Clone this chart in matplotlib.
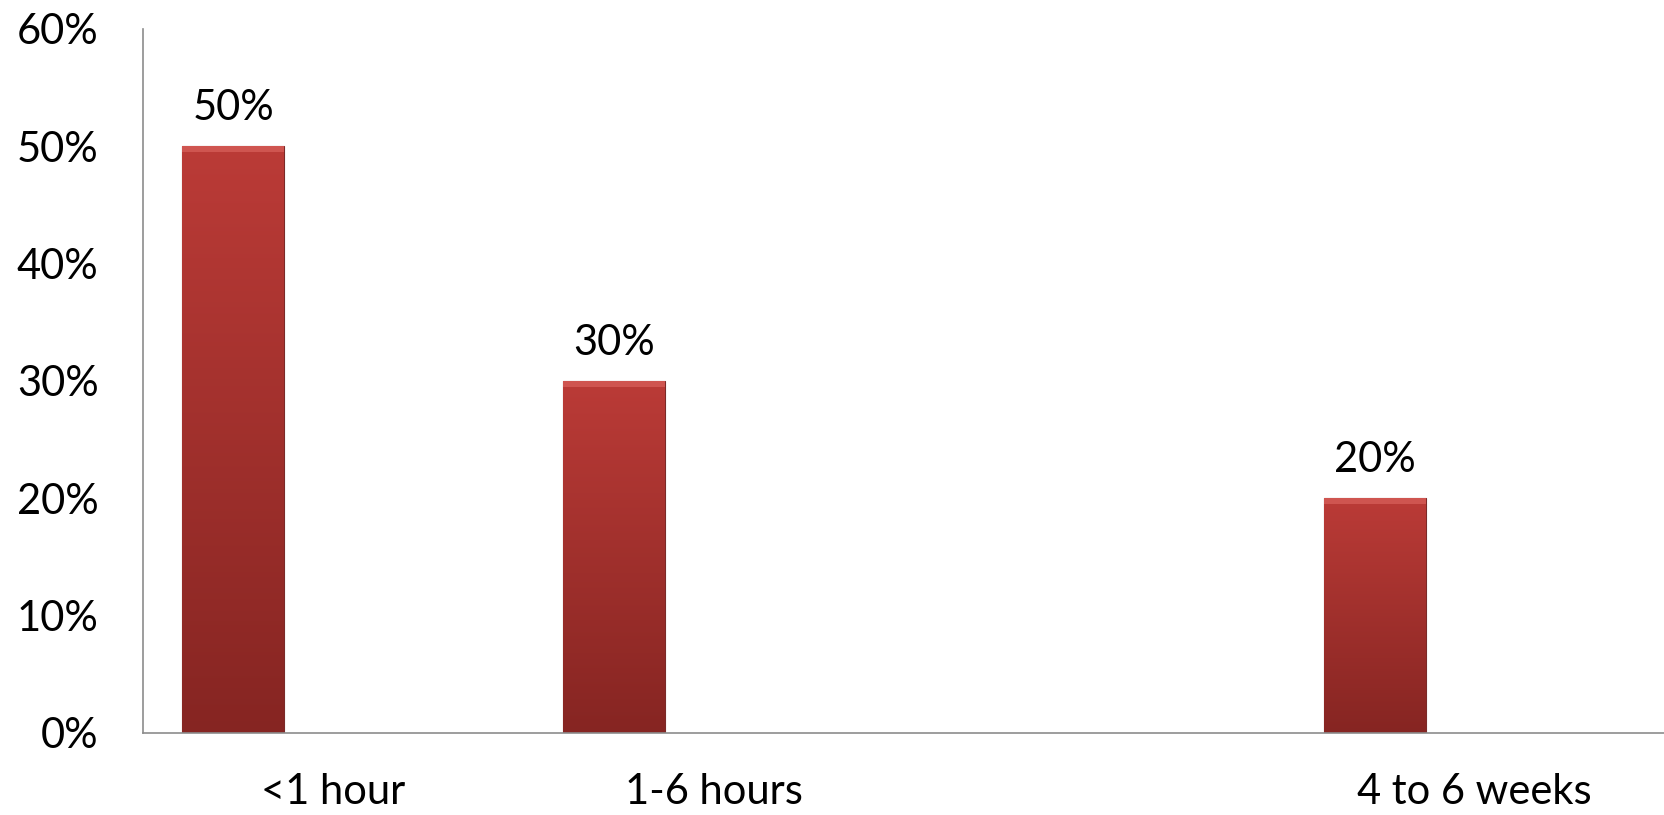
import matplotlib.pyplot as plt
import numpy as np
from matplotlib.colors import LinearSegmentedColormap

plt.rcParams['font.family'] = ['Lato', 'DejaVu Sans']

# data
categories = ['<1 hour', '1-6 hours', '', '4 to 6 weeks']
values = [50, 30, np.nan, 20]
yticks = [0, 10, 20, 30, 40, 50, 60]

fig = plt.figure(figsize=(16.65, 8.15), dpi=100)
ax = fig.add_axes([143 / 1665, 82 / 815, 1 - 143 / 1665, (733 - 28.6) / 815])

x = np.arange(len(categories))
width = 0.268
offset = -0.263  # bars sit in the first slot of the cluster

cmap = LinearSegmentedColormap.from_list('redgrad', ['#862522', '#bb3b37'])

for xi, v in zip(x, values):
    if np.isnan(v):
        continue
    bx = xi + offset
    bars = ax.bar(bx, v, width=width, color='#a8302d', edgecolor='#7a2a28', linewidth=0.8, zorder=2)
    patch = bars[0]
    grad = np.linspace(0, 1, 256).reshape(-1, 1)
    im = ax.imshow(grad, cmap=cmap, aspect='auto', origin='lower',
                   extent=[bx - width / 2, bx + width / 2, 0, v], zorder=2.5)
    im.set_clip_path(patch)
    # thin light bevel at the top
    ax.fill_between([bx - width / 2, bx + width / 2], v - 0.5, v,
                    color='#d9615c', alpha=0.7, zorder=3, linewidth=0)
    ax.text(bx, v + 1.6, f'{v:.0f}%', ha='center', va='bottom', fontsize=30)

ax.set_xlim(-0.5, 3.5)
ax.set_ylim(0, 60)
ax.set_yticks(yticks)
ax.set_yticklabels([f'{t}%' for t in yticks], fontsize=30)
ax.set_xticks(x)
ax.set_xticklabels(categories, fontsize=30)
ax.tick_params(axis='y', length=0, pad=32)
ax.tick_params(axis='x', length=0, pad=29)

for s in ['top', 'right']:
    ax.spines[s].set_visible(False)
for s in ['left', 'bottom']:
    ax.spines[s].set_color('#8c8c8c')
    ax.spines[s].set_linewidth(1.2)

fig.savefig('out.png', dpi=100)
